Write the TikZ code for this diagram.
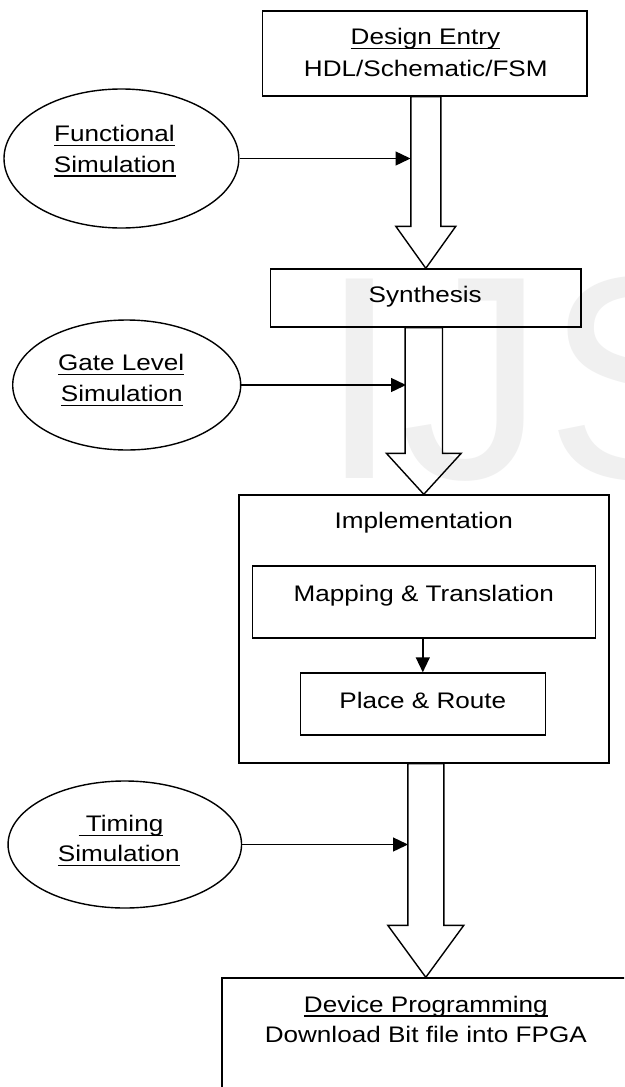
\documentclass[tikz,border=0pt]{standalone}
\usepackage{fontspec}
\setmainfont[FakeStretch=1.16]{Liberation Sans}
\newfontfamily\wmfont{Liberation Sans}
\usetikzlibrary{arrows.meta,calc,shapes.geometric}
\newcommand\myul[1]{\setbox0=\hbox{#1}\rlap{\rule[-4.5pt]{\wd0}{1.4pt}}\box0}
\newcommand\hollowarrow[5]{%
  \draw[hollow] let \p1=(#1.south), \p2=(#2.north) in
    (\x2-#3,\y1) -- (\x2-#3,\y2+#5) -- (\x2-#4,\y2+#5) -- (\x2,\y2)
    -- (\x2+#4,\y2+#5) -- (\x2+#3,\y2+#5) -- (\x2+#3,\y1) -- cycle;}
\begin{document}
\begin{tikzpicture}[x=1pt,y=-1pt,
  box/.style={draw, rectangle, line width=1.4pt, inner sep=0pt},
  oval/.style={draw, ellipse, line width=1.4pt, inner sep=0pt},
  txt/.style={anchor=base, inner sep=0pt, font=\fontsize{22.5}{30}\selectfont},
  hollow/.style={line width=1.4pt, line join=miter},
  thinarrow/.style={line width=1.4pt, -{Triangle[length=15pt,width=14pt]}}]
\clip (0,0) rectangle (624,1087);
\fill[white] (0,0) rectangle (624,1087);
% watermark
\node[anchor=base west, inner sep=0pt, text=black!6,
  font=\wmfont\fontsize{290}{290}\selectfont] (wm) at (319.4,478) {IJS};
% boxes
\node[box, minimum width=324.4pt, minimum height=85pt] (de) at (424.8,53.5) {};
\node[box, minimum width=310.4pt, minimum height=58pt] (syn) at (425.8,298) {};
\node[box, minimum width=370pt, minimum height=268pt] (impl) at (423.8,629) {};
\node[box, minimum width=343pt, minimum height=72pt] (map) at (424.2,602) {};
\node[box, minimum width=244.8pt, minimum height=62pt] (pr) at (422.8,704) {};
\node[box, minimum width=407.6pt, minimum height=140pt] (dev) at (425.8,1048) {};
% ellipses
\node[oval, minimum width=234.8pt, minimum height=139pt] (fs) at (121.4,158.5) {};
\node[oval, minimum width=228pt, minimum height=130pt] (gl) at (126.7,385) {};
\node[oval, minimum width=233.5pt, minimum height=127pt] (tm) at (124.8,844.5) {};
% texts
\node[txt] (de1) at (425.4,44.5) {\myul{Design Entry}};
\node[txt] (de2) at (425.8,76) {HDL/Schematic/FSM};
\node[txt] (fs1) at (114.4,141.5) {\myul{Functional}};
\node[txt] (fs2) at (114.8,172) {\myul{Simulation}};
\node[txt] (syn1) at (425.2,302) {Synthesis};
\node[txt] (gl1) at (121.2,370.7) {\myul{Gate Level}};
\node[txt] (gl2) at (121.8,401.7) {\myul{Simulation}};
\node[txt] (impl1) at (423.8,528.3) {Implementation};
\node[txt] (map1) at (423.8,601) {Mapping \& Translation};
\node[txt] (pr1) at (422.8,708.3) {Place \& Route};
\node[txt] (tm1) at (121,831.7) {\myul{\ Timing}};
\node[txt] (tm2) at (118.8,861.7) {\myul{Simulation}};
\node[txt] (dev1) at (425.8,1012.3) {\myul{Device Programming}};
\node[txt] (dev2) at (425.8,1042.7) {Download Bit file into FPGA};
% hollow arrows
\hollowarrow{de}{syn}{15pt}{30pt}{42pt}
\hollowarrow{syn}{impl}{18.7pt}{37.4pt}{41pt}
\hollowarrow{impl}{dev}{18pt}{38pt}{52pt}
% side arrows
\coordinate (t1) at (410.5,158.5);
\coordinate (t2) at (406,385);
\coordinate (t3) at (408,844.5);
\draw[thinarrow] (fs.east) -- (t1);
\draw[thinarrow] (gl.east) -- (t2);
\draw[thinarrow] (tm.east) -- (t3);
\draw[thinarrow] (map.south -| pr.north) -- (pr.north);
\end{tikzpicture}
\end{document}
